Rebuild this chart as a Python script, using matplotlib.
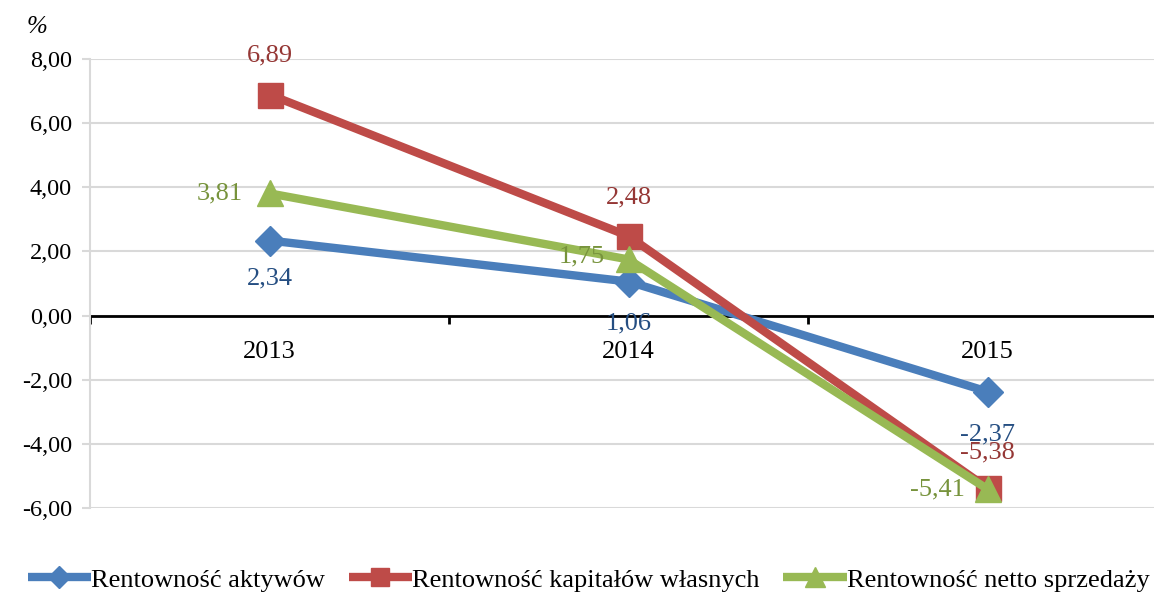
import matplotlib.pyplot as plt
from matplotlib.ticker import FuncFormatter, FixedLocator

plt.rcParams['font.family'] = ['Liberation Serif', 'DejaVu Serif']

lata = ['2013', '2014', '2015']
aktywa = [2.34, 1.06, -2.37]
kapital = [6.89, 2.48, -5.38]
sprzedaz = [3.81, 1.75, -5.41]

nazwy = ['Rentowność aktywów', 'Rentowność kapitałów własnych', 'Rentowność netto sprzedaży']
kolory = ['#4A7EBB', '#BE4B48', '#98B954']
kolory_tekst = ['#254E82', '#953735', '#77933C']
markery = ['D', 's', '^']
rozmiary = [15, 18, 19]
# where the value label goes for each point: (dx, dy) in points
przesuniecia = [
    [(0, -27), (0, -30), (0, -31)],
    [(0, 28), (0, 28), (0, 26)],
    [(-36, 0), (-34, 2), (-36, 0)],
]

fig = plt.figure(figsize=(11.54, 5.93), dpi=100)
ax = fig.add_axes([90 / 1154, 85 / 593, 1077 / 1154, 449 / 593])

x = list(range(len(lata)))
serie = [aktywa, kapital, sprzedaz]
for i, dane in enumerate(serie):
    ax.plot(x, dane, color=kolory[i], lw=6, marker=markery[i], ms=rozmiary[i],
            markerfacecolor=kolory[i], markeredgecolor=kolory[i], label=nazwy[i],
            solid_capstyle='butt', zorder=3 + i)

for i, dane in enumerate(serie):
    for j, v in enumerate(dane):
        dx, dy = przesuniecia[i][j]
        ax.annotate(f'{v:.2f}'.replace('.', ','), (j, v), xytext=(dx, dy),
                    textcoords='offset points', ha='center', va='center',
                    fontsize=19, color=kolory_tekst[i], zorder=10)

ax.set_xlim(-0.5, 2.5)
ax.set_ylim(-6, 8)
ax.set_yticks(range(-6, 9, 2))
ax.yaxis.set_major_formatter(FuncFormatter(lambda v, p: f'{v:.2f}'.replace('.', ',')))
ax.tick_params(axis='y', labelsize=17.5, length=6, color='#D9D9D9', width=1.5, pad=7)
ax.grid(axis='y', color='#D9D9D9', lw=1.5)
ax.set_axisbelow(True)

ax.spines['top'].set_visible(False)
ax.spines['right'].set_visible(False)
ax.spines['left'].set_color('#D9D9D9')
ax.spines['left'].set_linewidth(1.5)
ax.spines['bottom'].set_position(('data', 0))
ax.spines['bottom'].set_linewidth(2)
ax.spines['bottom'].set_zorder(2)

ax.set_xticks(x)
ax.set_xticklabels(lata)
ax.tick_params(axis='x', which='major', length=0, labelsize=19, pad=18)
ax.xaxis.set_minor_locator(FixedLocator([-0.5, 0.5, 1.5]))
ax.tick_params(axis='x', which='minor', length=6, width=2, direction='out')

fig.text(37 / 1154, 1 - 27 / 593, '%', fontsize=18, style='italic', ha='center', va='center')

fig.legend(loc='center', bbox_to_anchor=(0.51, 0.022), ncol=3, frameon=False,
           fontsize=19, handlelength=2.4, handletextpad=0.0, columnspacing=0.9,
           markerscale=0.75, borderaxespad=0)

fig.savefig('out.png', dpi=100)
